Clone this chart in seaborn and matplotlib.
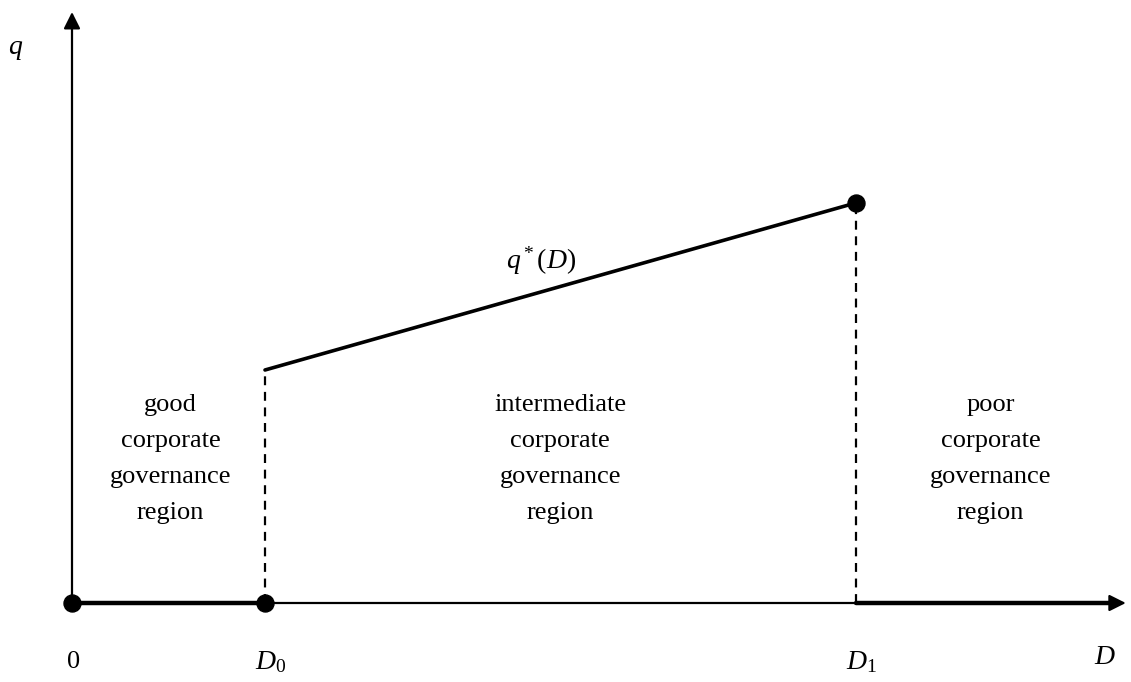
import numpy as np
import pandas as pd
import matplotlib.pyplot as plt
import seaborn as sns

# values of the piecewise q*(D) diagram
D0, D1 = 1.0, 4.06
Q0, Q1 = 2.33, 4.0
X_END = 5.46          # end of D axis (arrow tip)
Y_END = 5.91          # end of q axis (arrow tip)
region_labels = ['good\ncorporate\ngovernance\nregion',
                 'intermediate\ncorporate\ngovernance\nregion',
                 'poor\ncorporate\ngovernance\nregion']
region_x = [0.51, 2.53, 4.76]

sns.set_style('white')
plt.rcParams['font.family'] = ['Liberation Serif', 'DejaVu Serif']
plt.rcParams['mathtext.fontset'] = 'custom'
plt.rcParams['mathtext.it'] = 'Liberation Serif:italic'
plt.rcParams['mathtext.rm'] = 'Liberation Serif'
plt.rcParams['text.color'] = 'black'

fig = plt.figure(figsize=(11.31, 6.82), dpi=100)
ax = fig.add_axes([0, 0, 1, 1])
ax.set_xlim(-72 / 193, (1131 - 72) / 193)
ax.set_ylim(-0.79, 6.03)
ax.axis('off')

# axes with arrows
ax.annotate('', xy=(X_END, 0), xytext=(0, 0),
            arrowprops=dict(arrowstyle='-|>', lw=1.6, color='black',
                            mutation_scale=25, shrinkA=0, shrinkB=0))
ax.annotate('', xy=(0, Y_END), xytext=(0, 0),
            arrowprops=dict(arrowstyle='-|>', lw=1.6, color='black',
                            mutation_scale=25, shrinkA=0, shrinkB=0))

# thick segments where q = 0
seg = pd.DataFrame({'D': [0, D0], 'q': [0, 0]})
sns.lineplot(data=seg, x='D', y='q', color='black', lw=3.2, ax=ax)
seg2 = pd.DataFrame({'D': [D1, X_END - 0.08], 'q': [0, 0]})
sns.lineplot(data=seg2, x='D', y='q', color='black', lw=3.2, ax=ax)

# q*(D) line
mid = pd.DataFrame({'D': [D0, D1], 'q': [Q0, Q1]})
sns.lineplot(data=mid, x='D', y='q', color='black', lw=2.6, ax=ax)

# dashed verticals
ax.plot([D0, D0], [0, Q0], color='black', lw=1.6, ls=(0, (4, 3)))
ax.plot([D1, D1], [0, Q1], color='black', lw=1.6, ls=(0, (4, 3)))

# dots
pts = pd.DataFrame({'D': [0, D0, D1], 'q': [0, 0, Q1]})
sns.scatterplot(data=pts, x='D', y='q', color='black', s=150, ax=ax,
                edgecolor='black', zorder=5)

fs = 19
ax.text(-0.29, 5.53, '$q$', fontsize=fs + 1, ha='center', va='center')
ax.text(0.01, -0.59, '0', fontsize=fs, ha='center', va='center')
ax.text(D0 + 0.03, -0.59, '$D_0$', fontsize=fs + 1, ha='center', va='center')
ax.text(D1 + 0.03, -0.59, '$D_1$', fontsize=fs + 1, ha='center', va='center')
ax.text(5.35, -0.55, '$D$', fontsize=fs + 1, ha='center', va='center')
ax.text(2.43, 3.42, '$q^*(D)$', fontsize=fs + 1, ha='center', va='center')

for lab, xx in zip(region_labels, region_x):
    ax.text(xx, 1.44, lab, fontsize=fs, ha='center', va='center',
            linespacing=1.82)

if ax.get_legend():
    ax.get_legend().remove()
fig.savefig('out.png', dpi=100)
